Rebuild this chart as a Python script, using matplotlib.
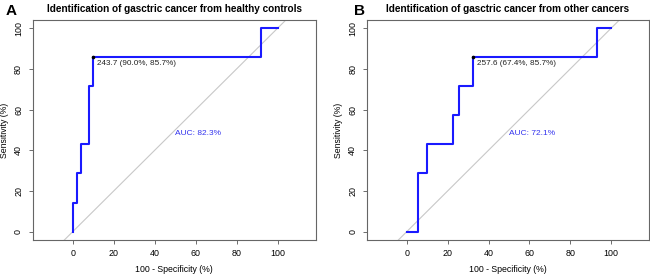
"""
ROC curves for gastric cancer identification (two panels).
"""
import matplotlib.pyplot as plt
import numpy as np

# panel A: healthy controls
fpr_a = [0, 0, 2, 2, 4, 4, 8, 8, 10, 10, 92, 92, 100]
sens_a = [0, 14.3, 14.3, 28.6, 28.6, 42.9, 42.9, 71.4, 71.4, 85.7, 85.7, 100, 100]
best_a = (10.0, 85.7)
label_a = "243.7 (90.0%, 85.7%)"
auc_a = "AUC: 82.3%"
title_a = "Identification of gasctric cancer from healthy controls"

# panel B: other cancers
fpr_b = [0, 5.6, 5.6, 10, 10, 22.4, 22.4, 25.6, 25.6, 32.6, 32.6, 93.0, 93.0, 100]
sens_b = [0, 0, 28.6, 28.6, 42.9, 42.9, 57.1, 57.1, 71.4, 71.4, 85.7, 85.7, 100, 100]
best_b = (32.6, 85.7)
label_b = "257.6 (67.4%, 85.7%)"
auc_b = "AUC: 72.1%"
title_b = "Identification of gasctric cancer from other cancers"

ticks = [0, 20, 40, 60, 80, 100]

plt.rcParams["font.family"] = ["Liberation Sans", "DejaVu Sans"]

fig = plt.figure(figsize=(6.5, 2.74), dpi=100)


def roc_panel(rect, fpr, sens, best, label, auc, title, letter, letter_x):
    ax = fig.add_axes(rect)
    ax.plot([-30, 130], [-30, 130], color="#c8c8c8", lw=0.8, zorder=1)
    ax.plot(fpr, sens, color="#1a1aff", lw=1.5, zorder=2)
    ax.plot([best[0]], [best[1]], "o", color="black", ms=1.6, zorder=3)
    ax.annotate(label, xy=best, xytext=(2.5, -2), textcoords="offset points",
                fontsize=5.9, ha="left", va="top", color="#222222")
    ax.text(50, 50, auc, fontsize=6.0, ha="left", va="top", color="#3333ee")
    ax.set_xlim(-19.5, 118.5)
    ax.set_ylim(-4, 104)
    ax.set_xticks(ticks)
    ax.set_yticks(ticks)
    ax.tick_params(labelsize=6.4, length=3, width=0.6, color="#555555", pad=4)
    for t in ax.get_yticklabels():
        t.set_rotation(90)
        t.set_va("center")
    for s in ax.spines.values():
        s.set_color("#666666")
        s.set_linewidth(0.8)
    ax.set_xlabel("100 - Specificity (%)", fontsize=6.3, labelpad=5)
    ax.set_ylabel("Sensitivity (%)", fontsize=6.3, labelpad=4)
    ax.set_title(title, fontsize=7.2, fontweight="bold", pad=6)
    fig.text(letter_x, 0.985, letter, fontsize=11, fontweight="bold", va="top")
    return ax


roc_panel([0.0505, 0.125, 0.435, 0.802], fpr_a, sens_a, best_a, label_a, auc_a,
          title_a, "A", 0.008)
roc_panel([0.5645, 0.125, 0.434, 0.802], fpr_b, sens_b, best_b, label_b, auc_b,
          title_b, "B", 0.545)

fig.savefig("out.png", dpi=100)
plt.close(fig)
